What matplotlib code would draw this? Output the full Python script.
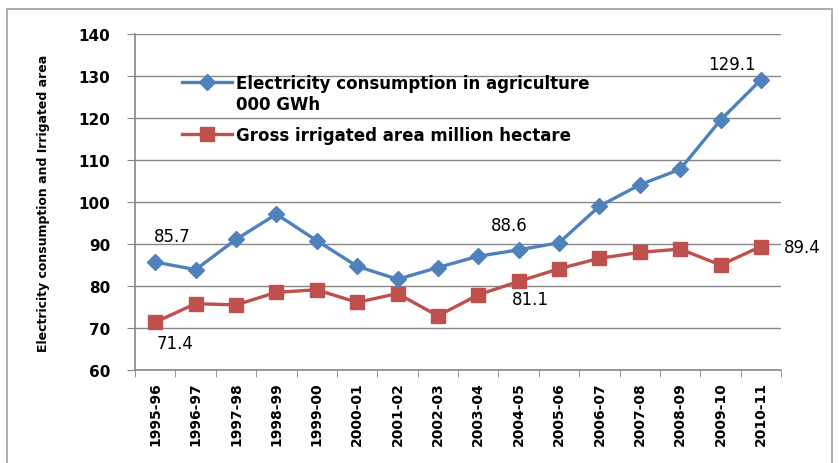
import numpy as np
import matplotlib.pyplot as plt
from matplotlib.patches import Rectangle

# Данные
years = ['1995-96', '1996-97', '1997-98', '1998-99', '1999-00', '2000-01',
         '2001-02', '2002-03', '2003-04', '2004-05', '2005-06', '2006-07',
         '2007-08', '2008-09', '2009-10', '2010-11']
electricity = [85.7, 83.9, 91.1, 97.1, 90.8, 84.7, 81.6, 84.4, 87.1, 88.6,
               90.3, 99.0, 104.1, 107.8, 119.5, 129.1]
irrigated = [71.4, 75.8, 75.5, 78.5, 79.1, 76.1, 78.2, 72.9, 77.9, 81.1,
             84.1, 86.6, 88.0, 88.8, 85.0, 89.4]

blue = '#4F81BD'
red = '#C0504D'
grid_c = '#868686'
W, H = 839, 464

fig = plt.figure(figsize=(W / 100, H / 100), dpi=100)
ax = fig.add_axes([0.161, 0.2004, 0.770, 0.7242])

x = np.arange(len(years))
ax.plot(x, electricity, color=blue, lw=2.4, marker='D', markersize=8,
        label='Electricity consumption in agriculture')
ax.plot(x, irrigated, color=red, lw=2.4, marker='s', markersize=10,
        label='Gross irrigated area million hectare')

ax.set_xlim(-0.5, len(years) - 0.5)
ax.set_ylim(60, 140)
ax.set_yticks(np.arange(60, 141, 10))
ax.yaxis.grid(True, color=grid_c, lw=1)
ax.set_axisbelow(True)

ax.set_xticks(x)
ax.set_xticklabels(years, rotation=90, fontsize=10, fontweight='bold')
ax.set_xticks(np.arange(-0.5, len(years)), minor=True)
ax.tick_params(axis='x', which='major', length=0, pad=8)
ax.tick_params(axis='x', which='minor', length=5, color=grid_c)
ax.tick_params(axis='y', length=6, color=grid_c, labelsize=11, pad=12)
for lab in ax.get_yticklabels():
    lab.set_fontweight('bold')

for s in ['top', 'right']:
    ax.spines[s].set_visible(False)
for s in ['left', 'bottom']:
    ax.spines[s].set_color(grid_c)
    ax.spines[s].set_linewidth(1.2)

ax.set_ylabel('Electricity consumption and Irrigated area', fontsize=9,
              fontweight='bold', labelpad=20)

# подписи значений
lbl = dict(fontsize=12, ha='center', va='center', textcoords='offset points')
ax.annotate(f'{electricity[0]}', (x[0], electricity[0]), xytext=(12, 19), **lbl)
ax.annotate(f'{irrigated[0]}', (x[0], irrigated[0]), xytext=(14, -15), **lbl)
ax.annotate(f'{electricity[9]}', (x[9], electricity[9]), xytext=(-6.5, 18), **lbl)
ax.annotate(f'{irrigated[9]}', (x[9], irrigated[9]), xytext=(8.5, -13), **lbl)
ax.annotate(f'{electricity[15]}', (x[15], electricity[15]), xytext=(-21, 11), **lbl)
ax.annotate(f'{irrigated[15]}', (x[15], irrigated[15]), xytext=(16.5, 0),
            fontsize=12, ha='left', va='center', textcoords='offset points')

leg = ax.legend(loc='upper left', bbox_to_anchor=(0.05, 0.925), frameon=False,
                handlelength=3.0, handletextpad=0.2, labelspacing=2.0,
                prop={'weight': 'bold', 'size': 12})

# вторая строка подписи легенды под первой
fig.canvas.draw()
bb = leg.get_texts()[0].get_window_extent()
fig.text(bb.x0 / W, (bb.y0 - 3) / H, '000 GWh', ha='left', va='top',
         fontsize=12, fontweight='bold')

fig.add_artist(Rectangle((7 / W, -0.1), 825 / W, 1.1 - 10 / H,
                         transform=fig.transFigure, fill=False,
                         edgecolor='#A0A0A0', lw=1.2))

plt.savefig('out.png', dpi=100)
